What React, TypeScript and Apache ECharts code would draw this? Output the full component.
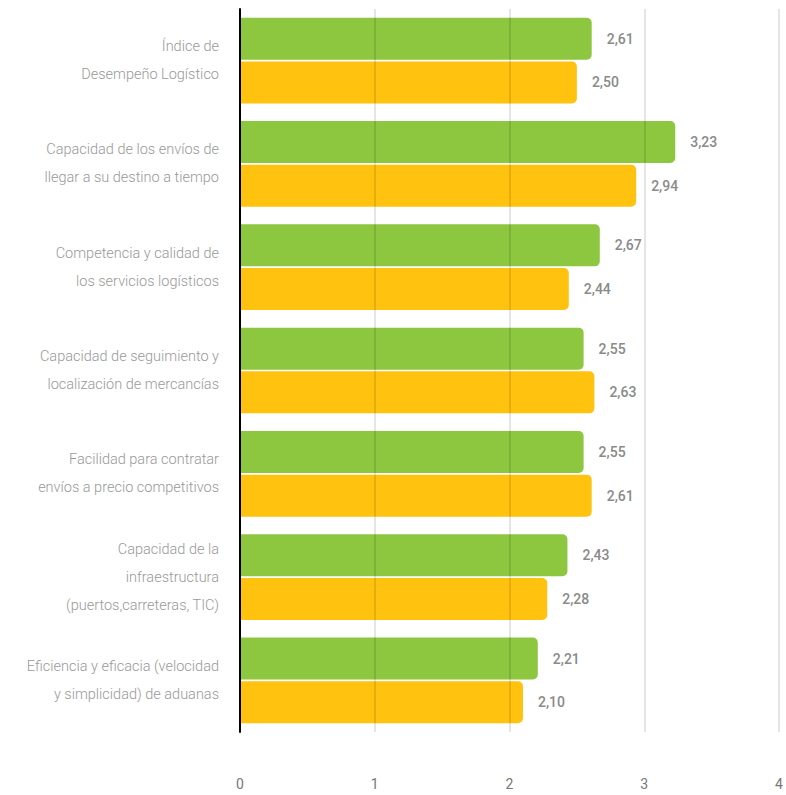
import React, { useEffect, useRef } from "react";
import * as echarts from "echarts";

const categories = [
  "Índice de\nDesempeño Logístico",
  "Capacidad de los envíos de\nllegar a su destino a tiempo",
  "Competencia y calidad de\nlos servicios logísticos",
  "Capacidad de seguimiento y\nlocalización de mercancías",
  "Facilidad para contratar\nenvíos a precio competitivos",
  "Capacidad de la\ninfraestructura\n(puertos,carreteras, TIC)",
  "Eficiencia y eficacia (velocidad\ny simplicidad) de aduanas",
];
const greenValues = [2.61, 3.23, 2.67, 2.55, 2.55, 2.43, 2.21];
const yellowValues = [2.5, 2.94, 2.44, 2.63, 2.61, 2.28, 2.1];

export default function App() {
  const ref = useRef<HTMLDivElement>(null);
  useEffect(() => {
    if (!ref.current) return;
    const chart = echarts.init(ref.current, null, { renderer: "svg" });
    const labelCfg = {
      show: true,
      position: "right",
      distance: 15,
      color: "#8a8a8a",
      fontSize: 14,
      fontWeight: 500,
      fontFamily: "Roboto",
      formatter: (p: any) => p.value.toFixed(2).replace(".", ","),
    };
    chart.setOption({
      animation: false,
      grid: { left: 240, right: 7, top: 9, bottom: 63, containLabel: false },
      xAxis: {
        type: "value",
        min: 0,
        max: 4,
        interval: 1,
        z: 5,
        axisLine: { show: false },
        axisTick: { show: false },
        axisLabel: { color: "#777", fontSize: 14, fontFamily: "Roboto", margin: 45 },
        splitLine: { show: true, lineStyle: { color: "rgba(0,0,0,0.1)", width: 2 } },
      },
      yAxis: {
        type: "category",
        data: categories,
        inverse: true,
        z: 6,
        axisLine: { show: true, lineStyle: { color: "#000", width: 2 } },
        axisTick: { show: false },
        axisLabel: {
          color: "#999",
          fontSize: 14.5,
          fontFamily: "Roboto",
          fontWeight: 300,
          lineHeight: 28,
          margin: 21,
          align: "right",
        },
      },
      series: [
        {
          name: "Serie A",
          type: "bar",
          data: greenValues,
          barWidth: 42,
          barGap: "4%",
          itemStyle: { color: "#8DC63F", borderRadius: [0, 5, 5, 0] },
          label: labelCfg,
        },
        {
          name: "Serie B",
          type: "bar",
          data: yellowValues,
          barWidth: 42,
          barGap: "4%",
          itemStyle: { color: "#FFC20E", borderRadius: [0, 5, 5, 0] },
          label: labelCfg,
        },
      ],
    });
    return () => chart.dispose();
  }, []);
  return (
    <div
      ref={ref}
      style={{ position: "absolute", left: 0, top: 0, width: 786, height: 795 }}
    />
  );
}
